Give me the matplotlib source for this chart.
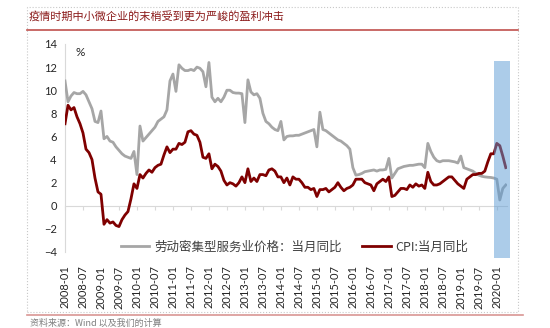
import numpy as np
import matplotlib.pyplot as plt
from matplotlib.patches import Rectangle
from matplotlib.lines import Line2D

plt.rcParams['font.family'] = ['Noto Sans CJK SC', 'DejaVu Sans']

title = '疫情时期中小微企业的末梢受到更为严峻的盈利冲击'
source = '资料来源：Wind 以及我们的计算'
series_names = ['劳动密集型服务业价格：当月同比', 'CPI:当月同比']

tick_labels = ['2008-01', '2008-07', '2009-01', '2009-07', '2010-01', '2010-07',
               '2011-01', '2011-07', '2012-01', '2012-07', '2013-01', '2013-07',
               '2014-01', '2014-07', '2015-01', '2015-07', '2016-01', '2016-07',
               '2017-01', '2017-07', '2018-01', '2018-07', '2019-01', '2019-07',
               '2020-01']

# monthly, 2008-01 .. 2020-04
labor_service = [
    10.8, 9.0, 9.5, 9.8, 9.7, 9.7, 9.9, 9.6, 9.0, 8.4, 7.3, 7.2,
    8.2, 5.8, 6.0, 5.6, 5.5, 5.1, 4.8, 4.5, 4.3, 4.2, 4.1, 4.7,
    2.7, 6.9, 5.6, 5.9, 6.2, 6.5, 6.8, 7.3, 7.5, 7.7, 8.3, 10.8,
    11.4, 9.9, 12.2, 11.9, 11.7, 11.7, 11.8, 11.7, 12.0, 11.9, 11.6, 10.3,
    12.4, 9.4, 9.0, 9.3, 9.0, 9.4, 10.0, 10.0, 9.8, 9.75, 9.75, 9.7,
    7.2, 10.9, 9.85, 9.6, 9.7, 9.3, 8.0, 7.3, 7.1, 6.8, 6.6, 6.5,
    7.3, 5.7, 6.0, 6.05, 6.05, 6.1, 6.1, 6.2, 6.3, 6.4, 6.5, 6.6,
    5.1, 8.1, 6.6, 6.5, 6.3, 6.1, 5.9, 5.7, 5.6, 5.4, 5.2, 4.9,
    3.3, 2.65, 2.7, 2.8, 2.95, 3.0, 3.05, 3.1, 3.0, 3.1, 3.1, 3.15,
    4.1, 2.4, 2.8, 3.2, 3.3, 3.4, 3.45, 3.5, 3.5, 3.55, 3.6, 3.6,
    3.3, 5.4, 4.7, 4.2, 3.9, 3.8, 3.9, 3.9, 3.9, 3.85, 3.8, 3.7,
    4.3, 3.3, 3.2, 3.1, 3.0, 2.8, 2.65, 2.55, 2.5, 2.47, 2.45, 2.4,
    2.3, 0.5, 1.5, 1.8,
]

cpi = [
    7.1, 8.7, 8.3, 8.5, 7.7, 7.1, 6.3, 4.9, 4.6, 4.0, 2.4, 1.2,
    1.0, -1.6, -1.2, -1.5, -1.4, -1.7, -1.8, -1.2, -0.8, -0.5, 0.6, 1.9,
    1.5, 2.7, 2.4, 2.8, 3.1, 2.9, 3.3, 3.5, 3.6, 4.4, 5.1, 4.6,
    4.9, 4.9, 5.4, 5.3, 5.5, 6.4, 6.5, 6.2, 6.1, 5.5, 4.2, 4.1,
    4.5, 3.2, 3.6, 3.4, 3.0, 2.2, 1.8, 2.0, 1.9, 1.7, 2.0, 2.5,
    2.0, 3.2, 2.1, 2.4, 2.1, 2.7, 2.7, 2.6, 3.1, 3.2, 3.0, 2.5,
    2.5, 2.0, 2.4, 1.8, 2.5, 2.3, 2.3, 2.0, 1.6, 1.6, 1.4, 1.5,
    0.8, 1.4, 1.4, 1.5, 1.2, 1.4, 1.6, 2.0, 1.6, 1.3, 1.5, 1.6,
    1.8, 2.3, 2.3, 2.3, 2.0, 1.9, 1.8, 1.3, 1.9, 2.1, 2.3, 2.1,
    2.5, 0.8, 0.9, 1.2, 1.5, 1.5, 1.4, 1.8, 1.6, 1.9, 1.7, 1.8,
    1.5, 2.9, 2.1, 1.8, 1.8, 1.9, 2.1, 2.3, 2.5, 2.5, 2.2, 1.9,
    1.7, 1.5, 2.3, 2.5, 2.7, 2.7, 2.8, 2.8, 3.0, 3.8, 4.5, 4.5,
    5.4, 5.2, 4.3, 3.3,
]

# shaded epidemic window, in month-index units
shade_start, shade_end = 143, 148.3

W, H = 550, 328
fig = plt.figure(figsize=(W / 100, H / 100), dpi=100)
ax = fig.add_axes([65 / W, 1 - 252 / H, 442 / W, 208 / H])

x = np.arange(len(cpi))
ax.plot(x, labor_service, color='#a6a6a6', lw=2.0, solid_joinstyle='round',
        label=series_names[0], zorder=3)
ax.plot(x, cpi, color='#7f0000', lw=2.0, solid_joinstyle='round',
        label=series_names[1], zorder=4)

ax.axvspan(shade_start, shade_end, ymin=-0.03, ymax=0.918, color='#5b9bd5',
           alpha=0.5, lw=0, clip_on=False, zorder=5)

ax.set_xlim(0, 147.4)
ax.set_ylim(-4, 14)

for s in ['top', 'right']:
    ax.spines[s].set_visible(False)
ax.spines['left'].set_color('#d9d9d9')
ax.spines['bottom'].set_color('#d9d9d9')
ax.spines['bottom'].set_position(('data', 0))

ax.set_yticks(np.arange(-4, 15, 2))
ax.tick_params(axis='y', length=0, pad=6, labelsize=8, labelcolor='#262626')
for lab in ax.get_yticklabels():
    lab.set_fontfamily(['Lato', 'DejaVu Sans'])

ax.set_xticks(x[::6])
ax.set_xticklabels(tick_labels, rotation=90)
ax.tick_params(axis='x', length=3, color='#d9d9d9', direction='out',
               pad=40, labelsize=8, labelcolor='#262626')
for lab in ax.get_xticklabels():
    lab.set_fontfamily(['Lato', 'DejaVu Sans'])

fig.text(80 / W, 1 - 53 / H, '%', fontsize=8.5, ha='center', va='center',
         color='#262626', family=['Lato', 'DejaVu Sans'])

fig.legend(loc='center', bbox_to_anchor=(294.5 / W, 1 - 247 / H),
           ncol=2, frameon=False, fontsize=9, handlelength=2.3,
           handletextpad=0.4, columnspacing=1.6, labelcolor='#404040')

# page furniture
fig.add_artist(Rectangle((27 / W, 1 - 312 / H), (518 - 27) / W, (312 - 7) / H,
                         transform=fig.transFigure, fill=False, ls=':',
                         ec='#c8c8c8', lw=0.8))
fig.add_artist(Line2D([27 / W, 518 / W], [1 - 30 / H] * 2,
                      transform=fig.transFigure, color='#c0504d', lw=1.2))
fig.add_artist(Line2D([27 / W, 523 / W], [1 - 315 / H] * 2,
                      transform=fig.transFigure, color='#d99694', lw=1.2))

fig.text(29 / W, 1 - 17 / H, title, fontsize=8, color='#8b1a1a',
         ha='left', va='center')
fig.text(30 / W, 1 - 323 / H, source, fontsize=6.5, color='#7f7f7f',
         ha='left', va='center', style='italic')

fig.savefig('out.png', dpi=100)
